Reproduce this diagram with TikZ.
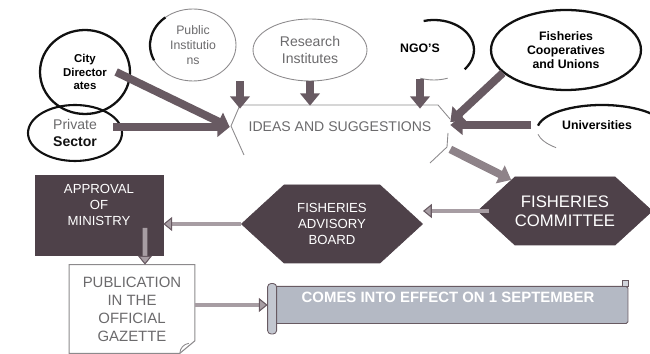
\documentclass[tikz,border=0pt]{standalone}
\usepackage{fontspec}
\setmainfont{Liberation Sans}
\usetikzlibrary{arrows.meta,positioning,shapes.geometric,shapes.symbols,calc}
\definecolor{Ink}{HTML}{111111}
\definecolor{Rim}{HTML}{8C8A8C}
\definecolor{GreyText}{HTML}{6B6A6C}
\definecolor{DarkC}{HTML}{4E4149}
\definecolor{ArrowC}{HTML}{685A62}
\definecolor{HatchC}{HTML}{A79DA3}
\definecolor{ScrollC}{HTML}{B4B9C4}

\begin{document}
\begin{tikzpicture}[
  x=0.02cm, y=0.02cm,
  ell/.style={ellipse, draw=Rim, line width=0.5pt, align=center, inner sep=0pt, text=GreyText},
  bell/.style={ellipse, draw=Ink, line width=1.3pt, align=center, inner sep=0pt, font=\fontsize{7}{8}\selectfont\bfseries},
  rim/.style={draw=Ink, line width=1.3pt},
  hexa/.style={signal, signal to=west and east, signal pointer angle=85, fill=DarkC, draw=DarkC, text=white, align=center, inner sep=0pt},
  darkbox/.style={fill=DarkC, draw=DarkC, text=white, align=center, font=\fontsize{7.5}{9}\selectfont},
  blk/.style={-{Triangle[length=7pt,width=11pt]}, draw=ArrowC, line width=4.5pt},
  lite/.style={-{Triangle[length=5pt,width=8pt,color=ArrowC,fill=HatchC,line width=0.6pt]}, draw=HatchC, line width=2.8pt}
]
\useasboundingbox (0,0) rectangle (650,354);

% sources of ideas
\node[bell, minimum width=1.8cm, minimum height=1.68cm, font=\fontsize{6.5}{7.5}\selectfont\bfseries] (city) at (85,282) {City\\Director\\ates};
\node[ell, minimum width=1.72cm, minimum height=1.44cm, font=\fontsize{7}{8.5}\selectfont] (pub) at (193,309) {Public\\Institutio\\ns};
\node[ell, minimum width=2.28cm, minimum height=1.24cm, font=\fontsize{8}{9.5}\selectfont] (res) at (310,304) {Research\\Institutes};
\node[bell, draw=none, minimum width=1.7cm, minimum height=1.2cm] (ngo) at (420,306) {NGO'S};
\node[bell, minimum width=3cm, minimum height=1.6cm] (coop) at (566,304) {Fisheries\\Cooperatives\\and Unions};
\node[ell, draw=Ink, line width=1.2pt, minimum width=1.88cm, minimum height=1.12cm, font=\fontsize{8}{9.5}\selectfont] (priv) at (75,221) {Private\\\textcolor{Ink}{\bfseries Sector}};
\node[bell, draw=none, minimum width=2.6cm] (univ) at (597,229) {Universities};

% open rims
\draw[rim] (pub.center) ++(130:0.86cm and 0.72cm) arc[start angle=130, end angle=205, x radius=0.86cm, y radius=0.72cm];
\draw[rim] (ngo.center) ++(14,-2) ++(105:0.8cm and 0.6cm) arc[start angle=105, end angle=-40, x radius=0.8cm, y radius=0.6cm];
\draw[Rim, line width=0.5pt] (ngo.center) ++(14,-2) ++(250:0.8cm and 0.6cm) arc[start angle=250, end angle=290, x radius=0.8cm, y radius=0.6cm];
\draw[rim] (univ.center) ++(5,-5) ++(170:1.3cm and 0.5cm) arc[start angle=170, end angle=15, x radius=1.3cm, y radius=0.5cm];
\draw[Rim, line width=0.5pt] (univ.center) ++(5,-5) ++(190:1.3cm and 0.5cm) arc[start angle=190, end angle=225, x radius=1.3cm, y radius=0.5cm];

% ideas and suggestions
\node[minimum width=4.4cm, minimum height=0.88cm, text=GreyText, font=\fontsize{8}{9}\selectfont] (ideas) at (340,227) {IDEAS AND SUGGESTIONS};
\draw[Rim, line width=0.5pt] (244,199) -- (231,228) -- (240,249) -- (438,249) -- (450,235);
\draw[Rim, line width=0.5pt] (448,221) -- (447,207) -- (430,191);

% decision chain
\node[hexa, minimum width=3.4cm, minimum height=1.36cm, font=\fontsize{9.5}{11}\selectfont] (comm) at (565,143) {FISHERIES\\COMMITTEE};
\node[hexa, minimum width=3.62cm, minimum height=1.56cm, font=\fontsize{7.5}{9}\selectfont] (adv) at (332,130) {FISHERIES\\ADVISORY\\BOARD};
\node[darkbox, minimum width=2.56cm, minimum height=1.6cm, text depth=0.4cm] (appr) at (99,139) {APPROVAL\\OF\\MINISTRY};
\node[minimum width=2.5cm, minimum height=1.76cm, align=center, text=GreyText, font=\fontsize{8.5}{10.2}\selectfont] (publ) at (132,45) {PUBLICATION\\IN THE\\OFFICIAL\\GAZETTE};
\draw[Rim, line width=0.6pt] (publ.south west) -- (publ.north west) -- (publ.north east) -- ([yshift=0.25cm]publ.south east) -- ([xshift=-0.3cm]publ.south east) -- cycle;
\draw[Rim, line width=0.5pt] ([xshift=-0.3cm]publ.south east) to[bend left=40] ([xshift=-0.12cm,yshift=0.2cm]publ.south east);
\node[fill=ScrollC, draw=ArrowC, line width=0.5pt, rounded corners=1pt, minimum width=7.2cm, minimum height=0.72cm, text depth=0.3cm, text=white, font=\fontsize{8.5}{9}\selectfont\bfseries] (banner) at (448,49) {COMES INTO EFFECT ON 1 SEPTEMBER};
\draw[draw=ArrowC, fill=ScrollC!80, line width=0.5pt, rounded corners=2pt] ([yshift=-0.2cm]banner.south west) rectangle ([xshift=0.18cm,yshift=0.05cm]banner.north west);
\draw[draw=ArrowC, fill=ScrollC!60, line width=0.4pt] ([xshift=-0.12cm]banner.north east) rectangle ([yshift=0.12cm]banner.north east);

% arrows
\draw[blk] ([xshift=-0.3cm]city.east) -- (ideas.west);
\draw[blk] ([xshift=-0.2cm]priv.east |- ideas.west) -- (ideas.west);
\draw[blk] ([xshift=0.94cm]pub.south) -- ([xshift=0.94cm,yshift=-0.08cm]pub.south |- ideas.north);
\draw[blk] (res.south) -- ([yshift=-0.02cm]res.south |- ideas.north);
\draw[blk] (ngo.south) -- ([yshift=-0.08cm]ngo.south |- ideas.north);
\draw[blk] (coop.200) -- ([yshift=0.1cm]ideas.east);
\draw[blk] (univ.west) -- (univ.west -| ideas.east);
\draw[blk, draw=ArrowC!75] (ideas.south east) -- (comm.150);
\draw[lite] ([xshift=0.24cm]comm.west) -- (comm.west -| adv.east);
\draw[lite] (adv.west) -- (adv.west -| appr.east);
\draw[lite] ([xshift=0.92cm,yshift=0.55cm]appr.south) -- ([xshift=0.26cm]publ.north);
\draw[lite] (publ.east |- banner.west) -- (banner.west);
\end{tikzpicture}
\end{document}
